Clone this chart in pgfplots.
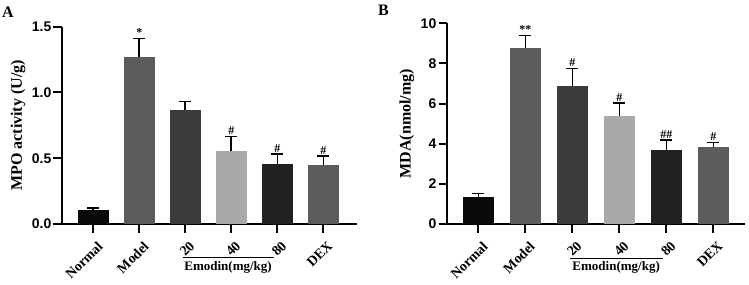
\documentclass[border=0pt]{standalone}
\usepackage{pgfplots}
\pgfplotsset{compat=1.18}
\usepackage{fontspec}
\setmainfont{Liberation Serif}
\setsansfont{Liberation Sans}
\definecolor{cNormal}{HTML}{0A0A0A}
\definecolor{cModel}{HTML}{5C5C5C}
\definecolor{cTwenty}{HTML}{3B3B3B}
\definecolor{cForty}{HTML}{A9A9A9}
\definecolor{cEighty}{HTML}{222222}
\definecolor{cDEX}{HTML}{5C5C5C}
\pgfplotsset{
 panel/.style={
  scale only axis,
  axis lines=left,
  axis line style={-, line width=2pt},
  ymin=0,
  xtick={0,...,5},
  xticklabels={Normal,Model,20,40,80,DEX},
  xticklabel style={xshift=3.5pt, yshift=-7pt, rotate=45, anchor=north east, font=\bfseries\fontsize{14}{14}\selectfont, inner sep=0.5pt},
  yticklabel style={font=\sffamily\bfseries\fontsize{14}{14}\selectfont, inner sep=2pt},
  ylabel style={font=\bfseries\fontsize{16}{16}\selectfont},
  /pgf/number format/assume math mode=true,
  tick style={line width=2pt, black},
  major tick length=8.5pt,
  tick align=outside,
  ybar, bar width=0.67,
  clip=false,
 },
 bars/.style={draw=none, bar shift=0pt,
  error bars/.cd, y dir=plus, y explicit, error mark=|,
  error bar style={line width=1.6pt, draw=black},
  error mark options={line width=1.6pt, draw=black, mark size=6pt}},
}
\tikzset{annot/.style={font=\bfseries\fontsize{12}{12}\selectfont, anchor=south, inner sep=1.5pt}}
\begin{document}
\begin{tikzpicture}
\path[use as bounding box] (0pt,0pt) rectangle (749pt,284pt);
% Panel A
\begin{axis}[panel,
  at={(62pt,60pt)}, anchor=south west,
  width=294.7pt, height=197.3pt,
  xmin=-0.68, xmax=5.726,
  ymax=1.5, ytick={0,0.5,1,1.5},
  yticklabel style={/pgf/number format/.cd, fixed, fixed zerofill, precision=1},
  ylabel={MPO activity (U/g)},
  ylabel style={at={(axis description cs:-0.149,0.5)}, anchor=center},
]
\addplot[fill=cNormal, bars] coordinates {(0,0.107) +- (0,0.015)};
\addplot[fill=cModel, bars] coordinates {(1,1.266) +- (0,0.145)};
\addplot[fill=cTwenty, bars] coordinates {(2,0.863) +- (0,0.068)};
\addplot[fill=cForty, bars] coordinates {(3,0.556) +- (0,0.109)};
\addplot[fill=cEighty, bars] coordinates {(4,0.454) +- (0,0.076)};
\addplot[fill=cDEX, bars] coordinates {(5,0.449) +- (0,0.066)};
\node[annot] at (axis cs:1,1.411) {*};
\node[annot] at (axis cs:3,0.665) {\#};
\node[annot] at (axis cs:4,0.530) {\#};
\node[annot] at (axis cs:5,0.515) {\#};
\draw[line width=1.2pt] (axis cs:1.94,-0.257) -- (axis cs:3.93,-0.257);
\node[font=\bfseries\fontsize{13}{13}\selectfont, inner sep=0pt] at (axis cs:2.93,-0.33) {Emodin(mg/kg)};
\end{axis}
\node[anchor=north west, font=\bfseries\fontsize{16}{16}\selectfont, inner sep=0pt] at (2pt,277pt) {A};
% Panel B
\begin{axis}[panel,
  at={(447pt,60pt)}, anchor=south west,
  width=298pt, height=200.7pt,
  xmin=-0.666, xmax=5.67,
  ymax=10, ytick={0,2,4,6,8,10},
  ylabel={MDA(nmol/mg)},
  ylabel style={at={(axis description cs:-0.135,0.5)}, anchor=center},
]
\addplot[fill=cNormal, bars] coordinates {(0,1.37) +- (0,0.15)};
\addplot[fill=cModel, bars] coordinates {(1,8.78) +- (0,0.62)};
\addplot[fill=cTwenty, bars] coordinates {(2,6.88) +- (0,0.87)};
\addplot[fill=cForty, bars] coordinates {(3,5.39) +- (0,0.64)};
\addplot[fill=cEighty, bars] coordinates {(4,3.71) +- (0,0.48)};
\addplot[fill=cDEX, bars] coordinates {(5,3.82) +- (0,0.25)};
\node[annot] at (axis cs:1,9.40) {**};
\node[annot] at (axis cs:2,7.75) {\#};
\node[annot] at (axis cs:3,6.03) {\#};
\node[annot] at (axis cs:4,4.19) {\#\#};
\node[annot] at (axis cs:5,4.07) {\#};
\draw[line width=1.2pt] (axis cs:1.94,-1.70) -- (axis cs:3.93,-1.70);
\node[font=\bfseries\fontsize{13}{13}\selectfont, inner sep=0pt] at (axis cs:2.93,-2.18) {Emodin(mg/kg)};
\end{axis}
\node[anchor=north west, font=\bfseries\fontsize{16}{16}\selectfont, inner sep=0pt] at (378pt,279pt) {B};
\end{tikzpicture}
\end{document}
